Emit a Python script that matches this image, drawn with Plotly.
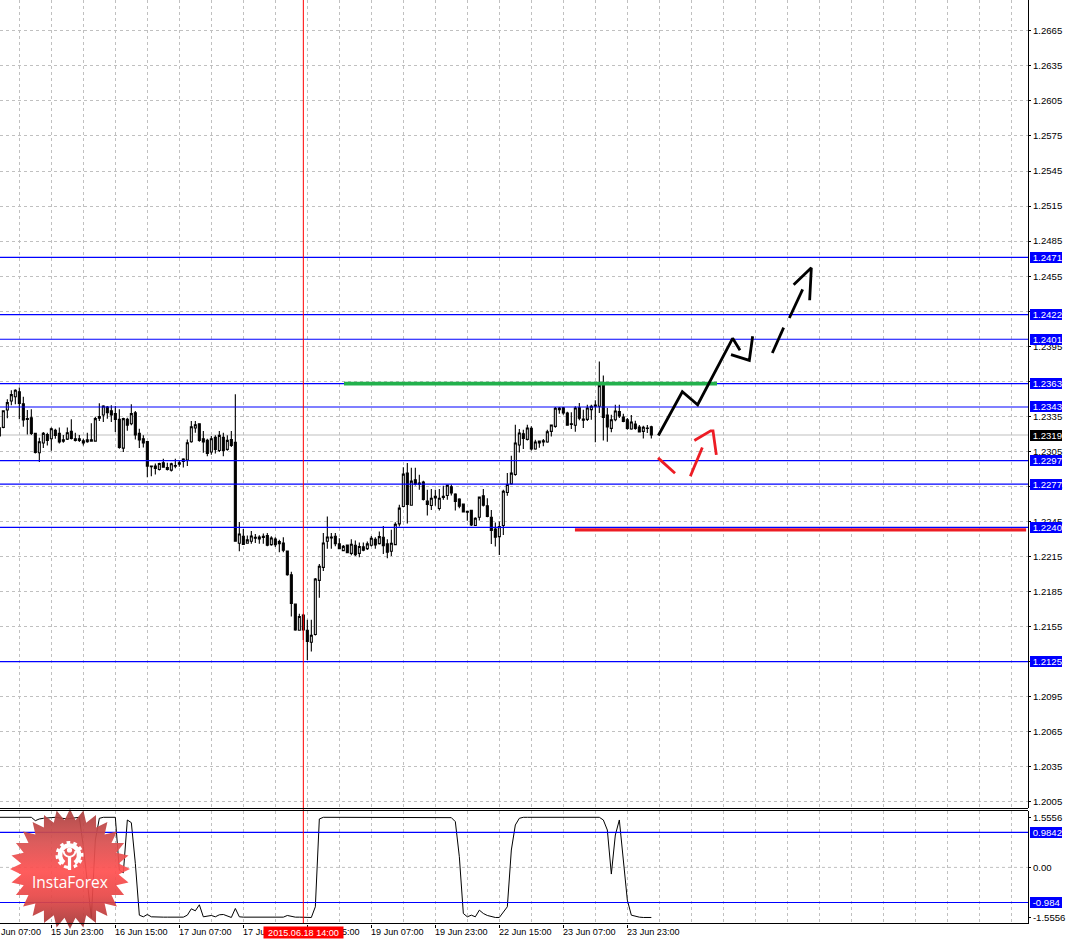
import base64
import numpy as np
import plotly.graph_objects as go

# ---------- data ----------
high_price = [1.23252,1.23398,1.23496,1.23573,1.23581,1.23596,1.23518,1.23404,1.23410,1.23204,
1.23167,1.23215,1.23210,1.23255,1.23244,1.23255,1.23190,1.23255,1.23324,1.23210,
1.23190,1.23158,1.23210,1.23290,1.23347,1.23461,1.23444,1.23438,1.23444,1.23438,
1.23410,1.23338,1.23338,1.23453,1.23396,1.23244,1.23187,1.23135,1.22929,1.22946,
1.22952,1.22987,1.22952,1.22952,1.22987,1.22975,1.22992,1.23152,1.23310,1.23310,
1.23287,1.23224,1.23158,1.23181,1.23187,1.23224,1.23210,1.23187,1.23224,1.23539,
1.22446,1.22386,1.22329,1.22369,1.22343,1.22332,1.22346,1.22352,1.22323,1.22314,
1.22294,1.22314,1.22197,1.22020,1.21742,1.21659,1.21659,1.21608,1.21608,1.21966,
1.22086,1.22352,1.22492,1.22352,1.22352,1.22306,1.22249,1.22249,1.22298,1.22286,
1.22269,1.22269,1.22278,1.22326,1.22315,1.22363,1.22412,1.22298,1.22378,1.22443,
1.22592,1.22915,1.22950,1.22910,1.22910,1.22850,1.22798,1.22721,1.22727,1.22721,
1.22727,1.22755,1.22767,1.22767,1.22692,1.22649,1.22598,1.22538,1.22546,1.22486,
1.22664,1.22727,1.22649,1.22549,1.22441,1.22449,1.22721,1.22864,1.23013,1.23278,
1.23241,1.23236,1.23278,1.23264,1.23150,1.23144,1.23156,1.23236,1.23281,1.23430,
1.23430,1.23430,1.23390,1.23384,1.23436,1.23464,1.23407,1.23450,1.23450,1.23487,
1.23819,1.23699,1.23421,1.23364,1.23450,1.23450,1.23373,1.23336,1.23361,1.23313,
1.23276,1.23270,1.23276,1.23270]
low_price = [1.23181,1.23247,1.23333,1.23444,1.23453,1.23324,1.23261,1.23195,1.23190,1.23032,
1.22958,1.23078,1.23101,1.23055,1.23158,1.23118,1.23124,1.23147,1.23152,1.23135,
1.23130,1.23101,1.23124,1.23135,1.23138,1.23310,1.23301,1.23330,1.23301,1.23215,
1.23072,1.23044,1.23227,1.23273,1.23152,1.23078,1.23084,1.22829,1.22838,1.22852,
1.22886,1.22909,1.22886,1.22878,1.22906,1.22918,1.22912,1.22924,1.23124,1.23210,
1.23132,1.23038,1.23009,1.23021,1.23032,1.23044,1.23009,1.23055,1.23087,1.22280,
1.22194,1.22254,1.22260,1.22260,1.22266,1.22260,1.22260,1.22237,1.22243,1.22231,
1.22186,1.22186,1.21986,1.21637,1.21514,1.21514,1.21436,1.21265,1.21336,1.21474,
1.21797,1.22026,1.22217,1.22217,1.22237,1.22215,1.22197,1.22177,1.22160,1.22155,
1.22143,1.22195,1.22206,1.22235,1.22217,1.22252,1.22172,1.22135,1.22155,1.22252,
1.22406,1.22572,1.22432,1.22584,1.22758,1.22721,1.22629,1.22501,1.22549,1.22584,
1.22544,1.22635,1.22635,1.22672,1.22544,1.22564,1.22526,1.22455,1.22412,1.22412,
1.22458,1.22578,1.22486,1.22258,1.22235,1.22163,1.22335,1.22669,1.22764,1.22841,
1.23041,1.23070,1.23144,1.23058,1.23064,1.23081,1.23093,1.23124,1.23178,1.23253,
1.23373,1.23364,1.23270,1.23241,1.23218,1.23316,1.23250,1.23310,1.23321,1.23127,
1.23379,1.23144,1.23133,1.23213,1.23307,1.23336,1.23299,1.23236,1.23236,1.23236,
1.23213,1.23161,1.23207,1.23161]
open_price = [1.23252,1.23255,1.23404,1.23481,1.23518,1.23561,1.23458,1.23330,1.23338,1.23204,
1.23038,1.23121,1.23193,1.23158,1.23230,1.23204,1.23150,1.23155,1.23221,1.23158,
1.23158,1.23141,1.23132,1.23150,1.23138,1.23347,1.23361,1.23430,1.23398,1.23373,
1.23324,1.23078,1.23324,1.23287,1.23381,1.23204,1.23158,1.23135,1.22924,1.22924,
1.22895,1.22952,1.22912,1.22889,1.22929,1.22952,1.22964,1.22975,1.23132,1.23250,
1.23287,1.23158,1.23144,1.23044,1.23170,1.23058,1.23170,1.23067,1.23152,1.23127,
1.22263,1.22323,1.22263,1.22280,1.22314,1.22300,1.22323,1.22329,1.22252,1.22300,
1.22260,1.22266,1.22197,1.21994,1.21742,1.21519,1.21648,1.21519,1.21416,1.21482,
1.21946,1.22057,1.22280,1.22317,1.22323,1.22258,1.22200,1.22249,1.22177,1.22246,
1.22177,1.22232,1.22217,1.22246,1.22298,1.22260,1.22315,1.22258,1.22195,1.22252,
1.22429,1.22578,1.22864,1.22589,1.22807,1.22778,1.22787,1.22624,1.22586,1.22666,
1.22561,1.22666,1.22672,1.22747,1.22684,1.22641,1.22598,1.22538,1.22546,1.22415,
1.22486,1.22669,1.22584,1.22486,1.22386,1.22320,1.22415,1.22698,1.22772,1.22852,
1.23104,1.23201,1.23153,1.23247,1.23070,1.23121,1.23141,1.23130,1.23221,1.23264,
1.23421,1.23424,1.23379,1.23287,1.23273,1.23424,1.23327,1.23324,1.23407,1.23447,
1.23436,1.23627,1.23361,1.23247,1.23321,1.23390,1.23344,1.23321,1.23241,1.23284,
1.23258,1.23221,1.23250,1.23261]
close_price = [1.23181,1.23398,1.23467,1.23536,1.23573,1.23461,1.23318,1.23324,1.23204,1.23041,
1.23132,1.23204,1.23144,1.23244,1.23187,1.23130,1.23138,1.23210,1.23161,1.23144,
1.23144,1.23121,1.23150,1.23138,1.23330,1.23333,1.23438,1.23381,1.23361,1.23324,
1.23084,1.23330,1.23275,1.23373,1.23190,1.23147,1.23121,1.22924,1.22918,1.22904,
1.22946,1.22915,1.22895,1.22944,1.22924,1.22941,1.22984,1.23124,1.23261,1.23278,
1.23144,1.23130,1.23032,1.23158,1.23067,1.23187,1.23058,1.23144,1.23101,1.22280,
1.22343,1.22254,1.22292,1.22326,1.22306,1.22317,1.22314,1.22246,1.22309,1.22252,
1.22277,1.22203,1.21994,1.21748,1.21522,1.21637,1.21522,1.21422,1.21476,1.21957,
1.22066,1.22266,1.22317,1.22309,1.22260,1.22217,1.22237,1.22183,1.22255,1.22166,
1.22235,1.22203,1.22258,1.22306,1.22249,1.22320,1.22243,1.22186,1.22263,1.22426,
1.22564,1.22855,1.22595,1.22795,1.22769,1.22767,1.22638,1.22595,1.22649,1.22652,
1.22649,1.22655,1.22761,1.22695,1.22621,1.22581,1.22532,1.22529,1.22421,1.22478,
1.22658,1.22589,1.22492,1.22372,1.22315,1.22406,1.22709,1.22767,1.22864,1.23121,
1.23207,1.23161,1.23250,1.23070,1.23130,1.23138,1.23130,1.23218,1.23276,1.23419,
1.23407,1.23379,1.23273,1.23281,1.23421,1.23333,1.23316,1.23421,1.23436,1.23436,
1.23613,1.23341,1.23258,1.23321,1.23396,1.23353,1.23307,1.23247,1.23301,1.23247,
1.23216,1.23256,1.23247,1.23190]
indicator = [1.405,1.405,1.405,1.405,1.405,1.405,1.405,1.405,1.405,1.311,
1.358,1.377,1.396,1.396,1.405,1.396,1.386,1.358,1.377,1.396,
1.405,0.581,-0.450,-1.405,0.768,1.377,1.405,1.405,1.405,1.405,
-0.075,-0.150,1.330,1.255,0.112,-1.340,-1.386,-1.321,-1.386,-1.396,
-1.396,-1.396,-1.396,-1.396,-1.396,-1.396,-1.396,-1.340,-1.162,-1.218,
-1.049,-1.386,-1.358,-1.349,-1.386,-1.330,-1.321,-1.358,-1.405,-1.152,
-1.386,-1.396,-1.396,-1.396,-1.396,-1.396,-1.396,-1.396,-1.396,-1.396,
-1.396,-1.396,-1.349,-1.377,-1.396,-1.396,-1.405,-1.405,-1.405,-1.105,
1.358,1.405,1.405,1.405,1.405,1.405,1.405,1.405,1.405,1.405,
1.405,1.405,1.405,1.405,1.405,1.405,1.405,1.405,1.405,1.405,
1.405,1.405,1.405,1.405,1.405,1.405,1.405,1.405,1.405,1.405,
1.405,1.405,1.405,1.396,1.283,0.300,-1.293,-1.386,-1.340,-1.386,
-1.199,-1.293,-1.349,-1.386,-1.405,-1.405,-1.246,-1.105,0.487,1.190,
1.377,1.405,1.405,1.405,1.405,1.405,1.405,1.405,1.405,1.405,
1.405,1.405,1.405,1.405,1.405,1.405,1.405,1.405,1.405,1.405,
1.405,1.330,1.049,-0.187,0.909,1.330,0.300,-0.918,-1.340,-1.377,
-1.396,-1.405,-1.405,-1.405]
bars = list(range(len(close_price)))
assert all(len(a) == len(bars) for a in (high_price, low_price, open_price, indicator))

price_ticks = [1.2005,1.2035,1.2065,1.2095,1.2125,1.2155,1.2185,1.2215,1.2245,1.2275,1.2305,
               1.2335,1.2365,1.2395,1.2425,1.2455,1.2485,1.2515,1.2545,1.2575,1.2605,1.2635,1.2665]
blue_levels = [1.2471,1.2422,1.2401,1.2363,1.2343,1.2297,1.2277,1.2240,1.2125]
blue_labels = ["1.2471","1.2422","1.2401","1.2363","1.2343","1.2297","1.2277","1.2240","1.2125"]
current_price = 1.2319
osc_levels = [0.9842,-0.9842]
osc_level_labels = ["0.9842","-0.984"]
osc_tick_vals = [1.405,0,-1.405]
osc_tick_text = ["1.5556","0.00","-1.5556"]

time_label_bars = [13,29,45,61,77,93,109,125,141,157]
time_labels = ["15 Jun 23:00","16 Jun 15:00","17 Jun 07:00","17 Jun 23:00","18 Jun 15:00",
               "19 Jun 07:00","19 Jun 23:00","22 Jun 15:00","23 Jun 07:00","23 Jun 23:00"]
clipped_label = "Jun 07:00"
cursor_bar = 76
cursor_label = "2015.06.18 14:00"

green_x, green_y = [86.17,179.42], [1.2363,1.2363]
red_x, red_y = [143.9,256.7], [1.22378,1.22378]
black_paths = [
    ([164.75,170.75,174.58,183.33,185.17],[1.23186,1.23560,1.23449,1.24018,1.23915]),
    ([182.92,187.5,188.33],[1.23878,1.23829,1.24035]),
    ([193.25,196.08],[1.23892,1.24109]),
    ([197.5,200.83],[1.24192,1.24436]),
    ([198.58,203,202.58],[1.24476,1.24621,1.24344]),
]
red_paths = [
    ([164.67,168.92],[1.22994,1.22863]),
    ([172.75,175.75],[1.22837,1.23083]),
    ([173.75,177.83,178.42,179.25],[1.23143,1.23226,1.23226,1.23020]),
]

# ---------- layout helpers ----------
W, H = 1079, 939
PLOT_R = 1028
MAIN_B, SUB_T, SUB_B = 808, 810.5, 923.5
px = lambda v: v / W
py = lambda v: 1 - v / H
XR = [0.1675, 0.1675 + PLOT_R / 4]
FONT = "Liberation Sans"
FS = 9.6
FS_TIME = 9.1
GRID = "#c0c0c0"
DASH = "3px,3px"
BLUE = "#0000ff"

fig = go.Figure()
fig.add_trace(go.Candlestick(
    x=bars, open=open_price, high=high_price, low=low_price, close=close_price,
    xaxis="x", yaxis="y", showlegend=False, hoverinfo="skip",
    increasing=dict(line=dict(color="black", width=1.1), fillcolor="white"),
    decreasing=dict(line=dict(color="black", width=1.1), fillcolor="black"),
))
for lv in blue_levels:
    fig.add_trace(go.Scatter(x=XR, y=[lv, lv], mode="lines", xaxis="x", yaxis="y", showlegend=False,
                             hoverinfo="skip", line=dict(color=BLUE, width=1.2)))
fig.add_trace(go.Scatter(x=green_x, y=green_y, mode="lines", showlegend=False, hoverinfo="skip",
                         line=dict(color="#22b14c", width=3.6)))
fig.add_trace(go.Scatter(x=red_x, y=red_y, mode="lines", showlegend=False, hoverinfo="skip",
                         line=dict(color="#ed1c24", width=3.4)))
for xs, ys in black_paths:
    fig.add_trace(go.Scatter(x=xs, y=ys, mode="lines", showlegend=False, hoverinfo="skip",
                             line=dict(color="black", width=2.8)))
for xs, ys in red_paths:
    fig.add_trace(go.Scatter(x=xs, y=ys, mode="lines", showlegend=False, hoverinfo="skip",
                             line=dict(color="#ed1c24", width=2.8)))
fig.add_trace(go.Scatter(x=bars, y=indicator, mode="lines", xaxis="x2", yaxis="y2", showlegend=False,
                         hoverinfo="skip", line=dict(color="black", width=1)))
for lv in osc_levels:
    fig.add_trace(go.Scatter(x=XR, y=[lv, lv], mode="lines", xaxis="x2", yaxis="y2", showlegend=False,
                             hoverinfo="skip", line=dict(color=BLUE, width=1.2)))

grid_bars = list(range(5, 257, 8))
shapes = [
    dict(type="line", xref="paper", yref="y", x0=0, x1=px(PLOT_R), y0=current_price, y1=current_price,
         line=dict(color=GRID, width=1.2), layer="below"),
    dict(type="line", xref="paper", yref="y2", x0=0, x1=px(PLOT_R), y0=0, y1=0,
         line=dict(color=GRID, width=1, dash=DASH), layer="below"),
    dict(type="line", xref="x", yref="paper", x0=cursor_bar, x1=cursor_bar, y0=py(SUB_B), y1=1,
         line=dict(color="#ff0000", width=1)),
    dict(type="line", xref="paper", yref="paper", x0=0, x1=px(PLOT_R), y0=py(MAIN_B+0.5), y1=py(MAIN_B+0.5),
         line=dict(color="black", width=1)),
    dict(type="line", xref="paper", yref="paper", x0=0, x1=px(PLOT_R), y0=py(SUB_T), y1=py(SUB_T),
         line=dict(color="black", width=1)),
    dict(type="line", xref="paper", yref="paper", x0=0, x1=px(PLOT_R), y0=py(SUB_B), y1=py(SUB_B),
         line=dict(color="black", width=1)),
]

def axis_box(text, yref, y, bg):
    return dict(text="&nbsp;" + text, xref="paper", x=px(1030), xanchor="left", yref=yref, y=y, yanchor="middle",
                showarrow=False, bgcolor=bg, width=32, height=11, align="left", borderpad=0, borderwidth=0,
                font=dict(family=FONT, size=FS, color="white"))

annotations = []
annotations.append(dict(text=clipped_label, xref="paper", x=0, xanchor="left", yref="paper", y=py(932), yanchor="middle",
                        showarrow=False, font=dict(family=FONT, size=FS_TIME, color="black"), borderpad=0))
for b, t in zip(time_label_bars, time_labels):
    annotations.append(dict(text=t, xref="x", x=b, xanchor="left", yref="paper", y=py(932), yanchor="middle",
                            showarrow=False, font=dict(family=FONT, size=FS_TIME, color="black"), borderpad=0, xshift=-1))
annotations.append(dict(text=cursor_label, xref="paper", x=px(263), xanchor="left", yref="paper", y=py(932), yanchor="middle",
                        showarrow=False, bgcolor="#ff0000", width=79, height=11, borderpad=0, align="center",
                        font=dict(family=FONT, size=FS_TIME, color="white")))
for lv, t in zip(blue_levels, blue_labels):
    annotations.append(axis_box(t, "y", lv, "#0000ff"))
annotations.append(axis_box(f"{current_price:.4f}", "y", current_price, "#000000"))
for lv, t in zip(osc_levels, osc_level_labels):
    annotations.append(axis_box(t, "y2", lv, "#0000ff"))
annotations.append(dict(text="InstaForex", xref="paper", x=px(70), xanchor="center", yref="paper", y=py(882), yanchor="middle",
                        showarrow=False, font=dict(family="Open Sans", size=15.5, color="white"), borderpad=0))

# InstaForex badge artwork
cx, cy, R_out, R_in, teeth = 61, 60, 60, 49, 28
ang = np.arange(teeth * 2) * np.pi / teeth - np.pi / 2
rad = np.where(np.arange(teeth * 2) % 2 == 0, R_out, R_in)
star = " ".join(f"{cx + r * np.cos(a):.1f},{cy + r * np.sin(a):.1f}" for r, a in zip(rad, ang))
svg = f'''<svg xmlns="http://www.w3.org/2000/svg" width="122" height="120" viewBox="0 0 122 120">
<defs><linearGradient id="g" x1="0" y1="0" x2="0" y2="1">
<stop offset="0" stop-color="#a8403f"/><stop offset="0.28" stop-color="#d95050"/>
<stop offset="0.52" stop-color="#ff5050"/><stop offset="0.72" stop-color="#e84848"/>
<stop offset="1" stop-color="#a03838"/></linearGradient></defs>
<polygon points="{star}" fill="url(#g)" fill-opacity="0.93"/>
<g fill="none" stroke="white">
<circle cx="60.5" cy="46" r="9.5" stroke-width="4.5" stroke-dasharray="48 12" transform="rotate(125 60.5 46)"/>
<circle cx="60.5" cy="46" r="12.5" stroke-width="3" stroke-dasharray="3.5 3.3"  transform="rotate(100 60.5 46)"/>
<path d="M54.5 42 Q55 47 60.5 48 Q66 47 66.5 42" stroke-width="2"/>
<path d="M60.5 47 L60.5 61" stroke-width="3.2"/>
</g><circle cx="60.5" cy="41" r="2.6" fill="white"/></svg>'''
badge = "data:image/svg+xml;base64," + base64.b64encode(svg.encode()).decode()

fig.update_layout(
    width=W, height=H, margin=dict(l=0, r=0, t=0, b=0),
    paper_bgcolor="white", plot_bgcolor="white", boxgap=0.3, showlegend=False,
    hovermode=False, font=dict(family=FONT, size=FS, color="black"),
    shapes=shapes, annotations=annotations,
    images=[dict(source=badge, xref="paper", yref="paper", x=px(9), y=py(809), sizex=px(122), sizey=120/H,
                 sizing="stretch", xanchor="left", yanchor="top", layer="above")],
    xaxis=dict(domain=[0, px(PLOT_R)], range=XR, anchor="y", tickvals=grid_bars, showticklabels=False, ticks="",
               showgrid=True, gridcolor=GRID, griddash=DASH, gridwidth=1, zeroline=False,
               rangeslider=dict(visible=False), fixedrange=True),
    yaxis=dict(domain=[py(MAIN_B), 1], range=[1.19997, 1.26914], side="right", anchor="x",
               tickvals=price_ticks, ticktext=[f"{v:.4f}" for v in price_ticks], ticks="outside", ticklen=2,
               tickcolor="black", showline=True, linecolor="black", linewidth=1, showgrid=True,
               gridcolor=GRID, griddash=DASH, gridwidth=1, zeroline=False,
               tickfont=dict(family=FONT, size=FS, color="black"), fixedrange=True),
    xaxis2=dict(domain=[0, px(PLOT_R)], range=XR, anchor="y2", tickvals=time_label_bars, showticklabels=False,
                ticks="outside", ticklen=3, tickcolor="black", showgrid=True, gridcolor=GRID, griddash=DASH,
                gridwidth=1, zeroline=False, fixedrange=True,
                minor=dict(tickvals=grid_bars, showgrid=True, gridcolor=GRID, griddash=DASH, gridwidth=1, ticks="")),
    yaxis2=dict(domain=[py(SUB_B), py(SUB_T)], range=[-1.574, 1.596], side="right", anchor="x2",
                tickvals=osc_tick_vals, ticktext=osc_tick_text, ticks="outside", ticklen=2, tickcolor="black",
                showline=True, linecolor="black", linewidth=1, showgrid=False, zeroline=False,
                tickfont=dict(family=FONT, size=FS, color="black"), fixedrange=True),
)

fig.write_html("out.html", config=dict(displayModeBar=False),
               post_script="document.body.style.margin='0';document.body.style.overflow='hidden';")
